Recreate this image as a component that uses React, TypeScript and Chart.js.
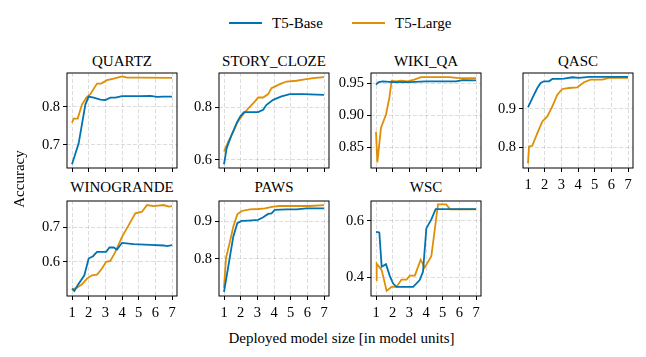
import React, { useEffect, useRef } from "react";
import { Chart, registerables } from "chart.js";

Chart.register(...registerables);

const FONT = "\"Liberation Serif\", \"Tinos\", \"Nimbus Roman\", \"Times New Roman\", Times, \"DejaVu Serif\", serif";
const SERIES_NAMES = ["T5-Base", "T5-Large"];
const SERIES_COLORS = ["#0173B2", "#DE8F05"];
const X_TICKS = [1, 2, 3, 4, 5, 6, 7];
const X_LABEL = "Deployed model size [in model units]";
const Y_LABEL = "Accuracy";

// [model size, accuracy]
const QUARTZ_BASE = [[1, 0.649], [1.4, 0.704], [1.8, 0.806], [2.0, 0.827], [2.3, 0.824], [2.7, 0.819], [3.0, 0.818], [3.3, 0.824], [3.6, 0.824], [4.0, 0.828], [5.1, 0.828], [5.7, 0.829], [6.1, 0.826], [6.5, 0.827], [7, 0.827]];
const QUARTZ_LARGE = [[1, 0.758], [1.1, 0.769], [1.34, 0.769], [1.6, 0.806], [1.86, 0.824], [2.1, 0.833], [2.5, 0.861], [2.75, 0.861], [3.1, 0.87], [3.5, 0.874], [4, 0.88], [4.3, 0.877], [5.1, 0.877], [7, 0.876]];

const STORY_BASE = [[1, 0.583], [1.16, 0.645], [1.46, 0.696], [1.8, 0.746], [2.0, 0.768], [2.2, 0.782], [3.05, 0.782], [3.35, 0.791], [3.55, 0.81], [3.95, 0.829], [4.45, 0.842], [4.95, 0.851], [5.75, 0.851], [7, 0.848]];
const STORY_LARGE = [[1, 0.632], [1.26, 0.67], [1.56, 0.708], [1.8, 0.743], [2.06, 0.766], [2.46, 0.797], [2.86, 0.823], [3.05, 0.838], [3.35, 0.838], [3.65, 0.851], [3.85, 0.874], [4.35, 0.889], [4.75, 0.899], [5.35, 0.902], [5.75, 0.906], [6.35, 0.912], [7, 0.916]];

const WIKI_BASE = [[1, 0.9474], [1.16, 0.9515], [1.4, 0.9526], [2, 0.9515], [3, 0.9515], [4, 0.9526], [5.8, 0.9526], [6.2, 0.9546], [7, 0.954]];
const WIKI_LARGE = [[1, 0.8742], [1.08, 0.8263], [1.3, 0.8804], [1.6, 0.901], [1.8, 0.9268], [1.94, 0.9536], [2.2, 0.9526], [2.5, 0.9536], [2.9, 0.9526], [3.3, 0.9552], [3.7, 0.9593], [5.4, 0.9593], [6, 0.9577], [7, 0.9577]];

const QASC_BASE = [[1, 0.9034], [1.26, 0.9276], [1.56, 0.9534], [1.76, 0.9664], [1.96, 0.9707], [2.26, 0.9707], [2.46, 0.9767], [2.86, 0.9767], [3.16, 0.9776], [3.66, 0.981], [4.06, 0.9793], [4.66, 0.9819], [7, 0.9819]];
const QASC_LARGE = [[1, 0.7595], [1.06, 0.8026], [1.26, 0.8052], [1.56, 0.8371], [1.86, 0.8672], [2.16, 0.8802], [2.46, 0.906], [2.76, 0.9362], [3.06, 0.9509], [3.46, 0.9534], [3.96, 0.9552], [4.36, 0.9681], [4.76, 0.975], [5.46, 0.975], [5.86, 0.9793], [7, 0.9793]];

const WINO_BASE = [[1, 0.5223], [1.14, 0.5155], [1.34, 0.532], [1.74, 0.5612], [2, 0.6097], [2.26, 0.6165], [2.5, 0.6291], [3.05, 0.629], [3.25, 0.6417], [3.5, 0.6417], [3.7, 0.636], [4, 0.6553], [4.7, 0.6515], [5.7, 0.6495], [6.5, 0.6476], [6.7, 0.6456], [7, 0.6485]];
const WINO_LARGE = [[1, 0.5194], [1.3, 0.5252], [1.6, 0.535], [1.9, 0.5515], [2.2, 0.5612], [2.5, 0.5631], [2.8, 0.5806], [3.05, 0.6], [3.3, 0.6029], [3.6, 0.6291], [4, 0.6728], [4.4, 0.7068], [4.8, 0.7408], [5.2, 0.7456], [5.5, 0.765], [5.9, 0.7621], [6.5, 0.765], [6.8, 0.7602], [7, 0.7621]];

const PAWS_BASE = [[1, 0.7115], [1.26, 0.7805], [1.56, 0.8602], [1.8, 0.8956], [2.06, 0.9018], [2.46, 0.9027], [3.05, 0.9044], [3.35, 0.9115], [3.65, 0.9204], [3.85, 0.9221], [4.05, 0.931], [4.75, 0.9327], [5.35, 0.9327], [5.95, 0.9354], [7, 0.9354]];
const PAWS_LARGE = [[1, 0.723], [1.12, 0.8027], [1.36, 0.8469], [1.56, 0.8867], [1.8, 0.9195], [2.06, 0.9283], [2.56, 0.9327], [3.05, 0.9336], [3.45, 0.9354], [3.95, 0.9398], [4.35, 0.9416], [6.15, 0.9416], [7, 0.9442]];

const WSC_BASE = [[1, 0.561], [1.2, 0.559], [1.34, 0.438], [1.6, 0.447], [1.83, 0.405], [2.03, 0.379], [2.23, 0.367], [3.23, 0.367], [3.62, 0.391], [3.82, 0.42], [4.02, 0.573], [4.32, 0.605], [4.58, 0.641], [7, 0.641]];
const WSC_LARGE = [[1, 0.391], [1.04, 0.449], [1.34, 0.426], [1.64, 0.353], [1.93, 0.367], [2.23, 0.367], [2.53, 0.393], [2.83, 0.393], [3.03, 0.407], [3.33, 0.407], [3.68, 0.463], [3.92, 0.435], [4.32, 0.475], [4.72, 0.658], [5.21, 0.658], [5.45, 0.64], [7, 0.64]];

const QUARTZ_Y_TICKS = [0.7, 0.8];
const STORY_Y_TICKS = [0.6, 0.8];
const WIKI_Y_TICKS = [0.85, 0.9, 0.95];
const QASC_Y_TICKS = [0.8, 0.9];
const WINO_Y_TICKS = [0.6, 0.7];
const PAWS_Y_TICKS = [0.8, 0.9];
const WSC_Y_TICKS = [0.4, 0.6];

const PANELS = [
  { title: "QUARTZ", base: QUARTZ_BASE, large: QUARTZ_LARGE, yTicks: QUARTZ_Y_TICKS, yMin: 0.639, yMax: 0.889, dec: 1, col: 0, row: 0, showX: false },
  { title: "STORY_CLOZE", base: STORY_BASE, large: STORY_LARGE, yTicks: STORY_Y_TICKS, yMin: 0.569, yMax: 0.9315, dec: 1, col: 1, row: 0, showX: false },
  { title: "WIKI_QA", base: WIKI_BASE, large: WIKI_LARGE, yTicks: WIKI_Y_TICKS, yMin: 0.8177, yMax: 0.9656, dec: 2, col: 2, row: 0, showX: false },
  { title: "QASC", base: QASC_BASE, large: QASC_LARGE, yTicks: QASC_Y_TICKS, yMin: 0.7475, yMax: 0.992, dec: 1, col: 3, row: 0, showX: true },
  { title: "WINOGRANDE", base: WINO_BASE, large: WINO_LARGE, yTicks: WINO_Y_TICKS, yMin: 0.501, yMax: 0.7767, dec: 1, col: 0, row: 1, showX: true },
  { title: "PAWS", base: PAWS_BASE, large: PAWS_LARGE, yTicks: PAWS_Y_TICKS, yMin: 0.7008, yMax: 0.955, dec: 1, col: 1, row: 1, showX: true },
  { title: "WSC", base: WSC_BASE, large: WSC_LARGE, yTicks: WSC_Y_TICKS, yMin: 0.335, yMax: 0.6696, dec: 1, col: 2, row: 1, showX: true },
];

// layout
const COL_LEFT = [67, 219, 371, 523];
const ROW_TOP = [73, 201];
const TITLE_TOP = [51, 177];
const AX_W = 110;
const AX_H = 95;
const YW = 44;
const XH = 28;
const PT = 12;
const PR = 8;
const TICK_FONT = 14.5;
const TEXT_FONT = 15;

const boxPlugin = {
  id: "axbox",
  afterDraw(chart: any) {
    const { ctx, chartArea: a } = chart;
    ctx.save();
    ctx.strokeStyle = "#000";
    ctx.lineWidth = 1;
    ctx.strokeRect(a.left, a.top, a.right - a.left, a.bottom - a.top);
    ctx.restore();
  },
};

function Panel({ cfg }: { cfg: any }) {
  const ref = useRef<HTMLCanvasElement>(null);
  const w = YW + AX_W + PR;
  const h = PT + AX_H + XH;
  const left = COL_LEFT[cfg.col] - YW;
  const top = ROW_TOP[cfg.row] - PT;
  useEffect(() => {
    const gridCommon = {
      color: "rgba(0,0,0,0.17)",
      lineWidth: 0.8,
      drawTicks: true,
      tickLength: 4,
      tickColor: "#000",
      tickWidth: 1,
      tickBorderDash: [],
    };
    const chart = new Chart(ref.current as HTMLCanvasElement, {
      type: "line",
      data: {
        datasets: [cfg.base, cfg.large].map((d: number[][], i: number) => ({
          label: SERIES_NAMES[i],
          data: d.map(([x, y]) => ({ x, y })),
          borderColor: SERIES_COLORS[i],
          backgroundColor: SERIES_COLORS[i],
          borderWidth: 1.8,
          pointRadius: 0,
          tension: 0,
          fill: false,
        })),
      },
      options: {
        animation: false,
        responsive: false,
        maintainAspectRatio: false,
        events: [],
        layout: { padding: { top: PT, right: PR, left: 0, bottom: 0 } },
        plugins: { legend: { display: false }, tooltip: { enabled: false }, title: { display: false } },
        scales: {
          x: {
            type: "linear",
            min: 0.7,
            max: 7.3,
            afterBuildTicks: (s: any) => {
              s.ticks = X_TICKS.map((v) => ({ value: v }));
            },
            afterFit: (s: any) => {
              s.height = XH;
            },
            grid: gridCommon,
            border: { display: false, dash: [4, 2] },
            ticks: {
              color: "#000",
              font: { family: FONT, size: TICK_FONT },
              padding: 4,
              maxRotation: 0,
              autoSkip: false,
              callback: (v: any) => (cfg.showX ? String(v) : ""),
            },
          },
          y: {
            type: "linear",
            min: cfg.yMin,
            max: cfg.yMax,
            afterBuildTicks: (s: any) => {
              s.ticks = cfg.yTicks.map((v: number) => ({ value: v }));
            },
            afterFit: (s: any) => {
              s.width = YW;
            },
            grid: gridCommon,
            border: { display: false, dash: [4, 2] },
            ticks: {
              color: "#000",
              font: { family: FONT, size: TICK_FONT },
              padding: 3,
              autoSkip: false,
              callback: (v: any) => Number(v).toFixed(cfg.dec),
            },
          },
        },
      } as any,
      plugins: [boxPlugin],
    });
    return () => chart.destroy();
  }, []);
  return (
    <canvas
      ref={ref}
      width={w}
      height={h}
      style={{ position: "absolute", left, top, width: w, height: h, display: "block" }}
    />
  );
}

export default function App() {
  return (
    <div
      style={{
        position: "fixed",
        left: 0,
        top: 0,
        width: 646,
        height: 357,
        background: "#fff",
        fontFamily: FONT,
        color: "#000",
        overflow: "hidden",
      }}
    >
      {/* legend */}
      <div style={{ position: "absolute", left: 0, top: 13, width: 646, height: 20 }}>
        {SERIES_NAMES.map((n, i) => (
          <div key={n} style={{ position: "absolute", left: [229, 352][i], top: 0, height: 20, display: "flex", alignItems: "center" }}>
            <div style={{ width: 33, height: 2, background: SERIES_COLORS[i] }} />
            <span style={{ marginLeft: 10, fontSize: TEXT_FONT, lineHeight: "20px", whiteSpace: "nowrap" }}>{n}</span>
          </div>
        ))}
      </div>
      {PANELS.map((p) => (
        <div
          key={p.title + "t"}
          style={{
            position: "absolute",
            left: COL_LEFT[p.col] - 20,
            width: AX_W + 40,
            top: TITLE_TOP[p.row],
            textAlign: "center",
            fontSize: TEXT_FONT,
            lineHeight: "20px",
            whiteSpace: "nowrap",
          }}
        >
          {p.title}
        </div>
      ))}
      {PANELS.map((p) => (
        <Panel key={p.title} cfg={p} />
      ))}
      <div
        style={{
          position: "absolute",
          left: 0,
          width: 683,
          top: 328,
          textAlign: "center",
          fontSize: TEXT_FONT,
          lineHeight: "20px",
          whiteSpace: "nowrap",
        }}
      >
        {X_LABEL}
      </div>
      <div
        style={{
          position: "absolute",
          left: 19 - 50,
          top: 179 - 10,
          width: 100,
          height: 20,
          textAlign: "center",
          fontSize: TEXT_FONT,
          lineHeight: "20px",
          transform: "rotate(-90deg)",
          whiteSpace: "nowrap",
        }}
      >
        {Y_LABEL}
      </div>
    </div>
  );
}
